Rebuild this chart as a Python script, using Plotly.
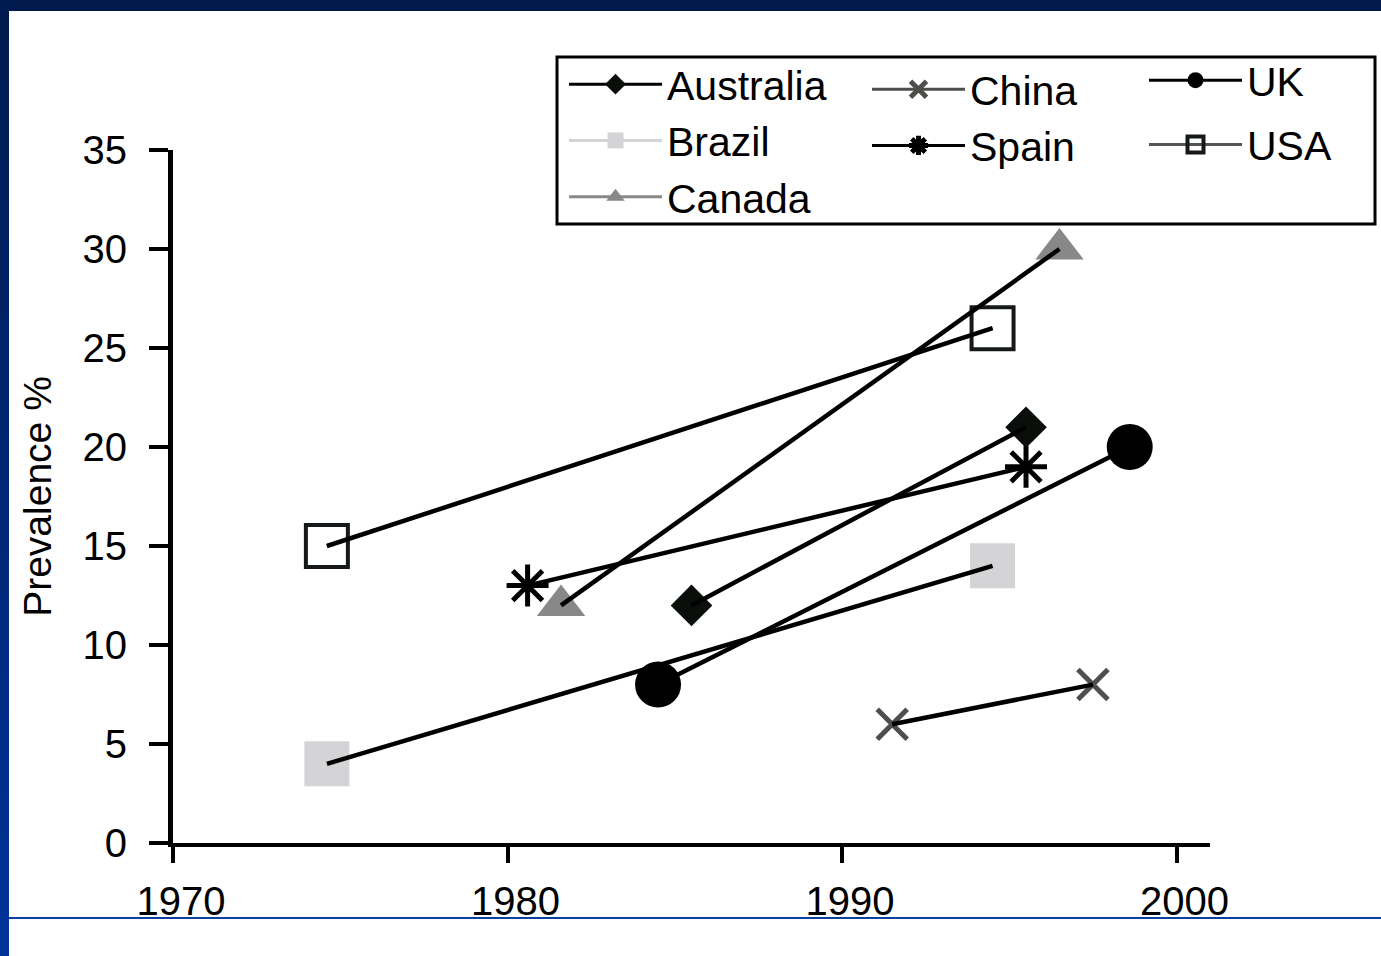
import plotly.graph_objects as go

# ---- data ----
countries = ["Australia", "Brazil", "Canada", "China", "Spain", "UK", "USA"]
year_start = [1985.5, 1974.6, 1981.6, 1991.5, 1980.6, 1984.5, 1974.6]
year_end = [1995.5, 1994.5, 1996.5, 1997.5, 1995.5, 1998.6, 1994.5]
prev_start = [12, 4, 12, 6, 13, 8, 15]
prev_end = [21, 14, 30, 8, 19, 20, 26]

x_tick_vals = [1970, 1980, 1990, 2000]
y_tick_vals = [0, 5, 10, 15, 20, 25, 30, 35]

# ---- styles ----
styles = {
    "Australia": dict(symbol="diamond", size=32, color="#0b0f0b", line="#000000", lw=0, leg="legend"),
    "Brazil": dict(symbol="square", size=45, color="#d4d3d6", line="#d4d3d6", lw=0, leg="legend"),
    "Canada": dict(symbol="triangle-up", size=42, color="#888888", line="#888888", lw=0, leg="legend"),
    "China": dict(symbol="x-thin-open", size=30, color="#4d4f4c", line="#4d4f4c", lw=5, leg="legend2"),
    "Spain": dict(symbol="asterisk-open", size=35, color="#000000", line="#000000", lw=5, leg="legend2"),
    "UK": dict(symbol="circle", size=46, color="#000000", line="#000000", lw=0, leg="legend3"),
    "USA": dict(symbol="square-open", size=42, color="#161a16", line="#555555", lw=4, leg="legend3"),
}

W_PX, H_PX = 1381, 956
ML, MR, MT, MB = 173, 171, 150, 113
PW = W_PX - ML - MR
PH = H_PX - MT - MB


def fx(p):
    return (p - ML) / PW


def fy(p):
    return (H_PX - MB - p) / PH


fig = go.Figure()

# marker traces (with legend)
for i, c in enumerate(countries):
    s = styles[c]
    fig.add_trace(go.Scatter(
        x=[year_start[i], year_end[i]],
        y=[prev_start[i], prev_end[i]],
        mode="lines+markers",
        name=c,
        legend=s["leg"],
        legendgroup=c,
        line=dict(color=s["line"], width=3),
        marker=dict(symbol=s["symbol"], size=s["size"], color=s["color"],
                    line=dict(color=s["color"], width=s["lw"])),
        cliponaxis=False,
    ))

# black trend lines drawn on top
for i, c in enumerate(countries):
    fig.add_trace(go.Scatter(
        x=[year_start[i], year_end[i]],
        y=[prev_start[i], prev_end[i]],
        mode="lines",
        line=dict(color="#000000", width=4.5),
        showlegend=False,
        hoverinfo="skip",
    ))

# slide frame
shapes = []
shapes.append(dict(type="rect", xref="paper", yref="paper",
                   x0=fx(0), x1=fx(W_PX), y0=fy(0), y1=fy(11),
                   fillcolor="#001a4e", line=dict(width=0), layer="above"))
N = 24
c_top = (0x00, 0x1a, 0x4e)
c_bot = (0x00, 0x33, 0x99)
for k in range(N):
    t = (k + 0.5) / N
    col = "rgb(%d,%d,%d)" % tuple(int(round(a + (b - a) * t)) for a, b in zip(c_top, c_bot))
    shapes.append(dict(type="rect", xref="paper", yref="paper",
                       x0=fx(0), x1=fx(9), y0=fy(k * H_PX / N), y1=fy((k + 1) * H_PX / N + 1),
                       fillcolor=col, line=dict(width=0), layer="above"))
shapes.append(dict(type="line", xref="paper", yref="paper",
                   x0=fx(9), x1=fx(W_PX), y0=fy(918), y1=fy(918),
                   line=dict(color="#0a40a0", width=2), layer="above"))
# legend box
shapes.append(dict(type="rect", xref="paper", yref="paper",
                   x0=fx(557), x1=fx(1375), y0=fy(57), y1=fy(224),
                   fillcolor="rgba(0,0,0,0)", line=dict(color="#000000", width=3), layer="above"))

font_family = "Liberation Sans, Arial, sans-serif"
leg_font = dict(family=font_family, size=41, color="#000000")
tick_font = dict(family=font_family, size=40, color="#000000")


def legend_at(px_left, px_top, gap=0):
    return dict(
        orientation="v",
        x=fx(px_left), y=fy(px_top), xanchor="left", yanchor="top",
        borderwidth=0, bgcolor="rgba(0,0,0,0)",
        font=leg_font, itemwidth=93, traceorder="grouped", tracegroupgap=gap,
    )


fig.update_layout(
    width=W_PX, height=H_PX,
    margin=dict(l=ML, r=MR, t=MT, b=MB, pad=0),
    paper_bgcolor="white", plot_bgcolor="white",
    font=dict(family=font_family, size=40, color="#000000"),
    shapes=shapes,
    showlegend=True,
    legend=legend_at(564, 51, 0),
    legend2=legend_at(867, 56, 0),
    legend3=legend_at(1144, 47, 8),
    xaxis=dict(
        range=[1970, 2001], tickvals=x_tick_vals, ticktext=[str(v) for v in x_tick_vals],
        showgrid=False, zeroline=False, showline=True, linecolor="#000000", linewidth=4,
        ticks="outside", ticklen=16, tickwidth=4, tickcolor="#000000",
        ticklabelstandoff=4, ticklabelshift=8,
        tickfont=tick_font,
    ),
    yaxis=dict(
        range=[0, 35], tickvals=y_tick_vals, ticktext=[str(v) for v in y_tick_vals],
        showgrid=False, zeroline=False, showline=True, linecolor="#000000", linewidth=5,
        ticks="outside", ticklen=19, tickwidth=4, tickcolor="#000000",
        ticklabelstandoff=14,
        tickfont=tick_font,
        title=dict(text="Prevalence %", standoff=20,
                   font=dict(family=font_family, size=39, color="#000000")),
    ),
)

fig.write_html(
    "out.html",
    config={"displayModeBar": False},
    post_script="document.body.style.margin='0';document.body.style.padding='0';",
)
